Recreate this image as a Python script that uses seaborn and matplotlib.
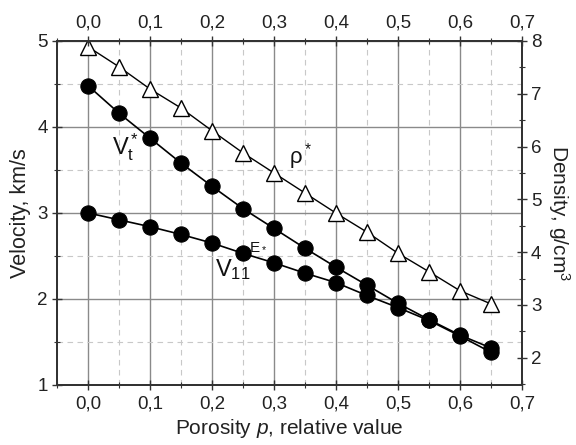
import numpy as np
import pandas as pd
import matplotlib
matplotlib.use('Agg')
import matplotlib.pyplot as plt
import seaborn as sns
from matplotlib.ticker import MultipleLocator, FuncFormatter

# porosity values and the three curves
porosity = [0.0, 0.05, 0.1, 0.15, 0.2, 0.25, 0.3, 0.35, 0.4, 0.45, 0.5, 0.55, 0.6, 0.65]
v_t = [4.48, 4.16, 3.87, 3.58, 3.31, 3.05, 2.82, 2.59, 2.37, 2.16, 1.95, 1.76, 1.58, 1.43]
v_11 = [3.00, 2.92, 2.84, 2.75, 2.65, 2.53, 2.42, 2.30, 2.19, 2.04, 1.90, 1.75, 1.57, 1.38]
density = [7.89, 7.51, 7.09, 6.73, 6.30, 5.88, 5.50, 5.12, 4.74, 4.38, 3.98, 3.63, 3.27, 3.02]

data = pd.DataFrame({'p': porosity, 'vt': v_t, 'v11': v_11, 'rho': density})

sns.set_style('white')
plt.rcParams['font.family'] = ['Liberation Sans', 'DejaVu Sans']
plt.rcParams['mathtext.fontset'] = 'custom'
plt.rcParams['mathtext.rm'] = 'Liberation Sans'
plt.rcParams['mathtext.it'] = 'Liberation Sans:italic'

fig = plt.figure(figsize=(5.76, 4.45), dpi=100)
ax = fig.add_axes([0.099, 0.135, 0.807, 0.773])

comma = FuncFormatter(lambda x, pos: ('%.1f' % x).replace('.', ','))

ax.set_xlim(-0.05, 0.7)
ax.set_ylim(1, 5)
ax.xaxis.set_major_locator(MultipleLocator(0.1))
ax.xaxis.set_minor_locator(MultipleLocator(0.05))
ax.yaxis.set_major_locator(MultipleLocator(1))
ax.yaxis.set_minor_locator(MultipleLocator(0.5))
ax.xaxis.set_major_formatter(comma)
ax.grid(which='major', color='#8a8a8a', lw=1.0, ls='-')
ax.grid(which='minor', color='#c8c8c8', lw=0.8, ls=(0, (5, 4)))
ax.set_axisbelow(True)

sns.lineplot(data=data, x='p', y='vt', ax=ax, color='black', lw=1.2,
             marker='o', markersize=11, markerfacecolor='black', markeredgecolor='black')
sns.lineplot(data=data, x='p', y='v11', ax=ax, color='black', lw=1.2,
             marker='o', markersize=11, markerfacecolor='black', markeredgecolor='black')

ax2 = ax.twinx()
ax2.set_ylim(1.485, 8)
ax2.yaxis.set_major_locator(MultipleLocator(1))
ax2.yaxis.set_minor_locator(MultipleLocator(0.5))
sns.lineplot(data=data, x='p', y='rho', ax=ax2, color='black', lw=1.0,
             marker='^', markersize=12, markerfacecolor='white', markeredgecolor='black',
             markeredgewidth=1.0)
ax2.grid(False)

ax3 = ax.twiny()
ax3.set_xlim(-0.05, 0.7)
ax3.xaxis.set_major_locator(MultipleLocator(0.1))
ax3.xaxis.set_minor_locator(MultipleLocator(0.05))
ax3.xaxis.set_major_formatter(comma)

for a in (ax, ax2, ax3):
    for s in a.spines.values():
        s.set_color('#333333')
        s.set_linewidth(1.2)
    a.tick_params(which='major', direction='inout', length=7, width=1.0, color='#333333',
                  labelsize=13.5, labelcolor='#222222')
    a.tick_params(which='minor', direction='inout', length=4, width=0.8, color='#333333')

ax.tick_params(axis='x', pad=4)
ax3.tick_params(axis='x', pad=3)
ax.tick_params(axis='y', pad=3)
ax2.tick_params(axis='y', pad=3)

ax.set_xlabel('Porosity $p$, relative value', fontsize=15, color='#222222', labelpad=3)
ax.set_ylabel('Velocity, km/s', fontsize=15.5, color='#222222', labelpad=5)
ax2.set_ylabel('Density, g/cm$^3$', fontsize=15, color='#222222', rotation=270, labelpad=22)
ax3.set_xlabel('')
ax2.set_xlabel('')

ax.text(0.038, 3.76, r'$\mathregular{V_t^*}$', fontsize=17, va='center', ha='left', color='#111111')
ax.text(0.325, 3.65, r'$\mathregular{\rho^*}$', fontsize=16, va='center', ha='left', color='#111111')
ax.text(0.205, 2.34, r'$\mathregular{V_{11}}$', fontsize=17, va='center', ha='left', color='#111111')
ax.text(0.26, 2.62, r'$\mathregular{E_*}$', fontsize=11, va='center', ha='left', color='#111111')

fig.savefig('out.png', dpi=100)
